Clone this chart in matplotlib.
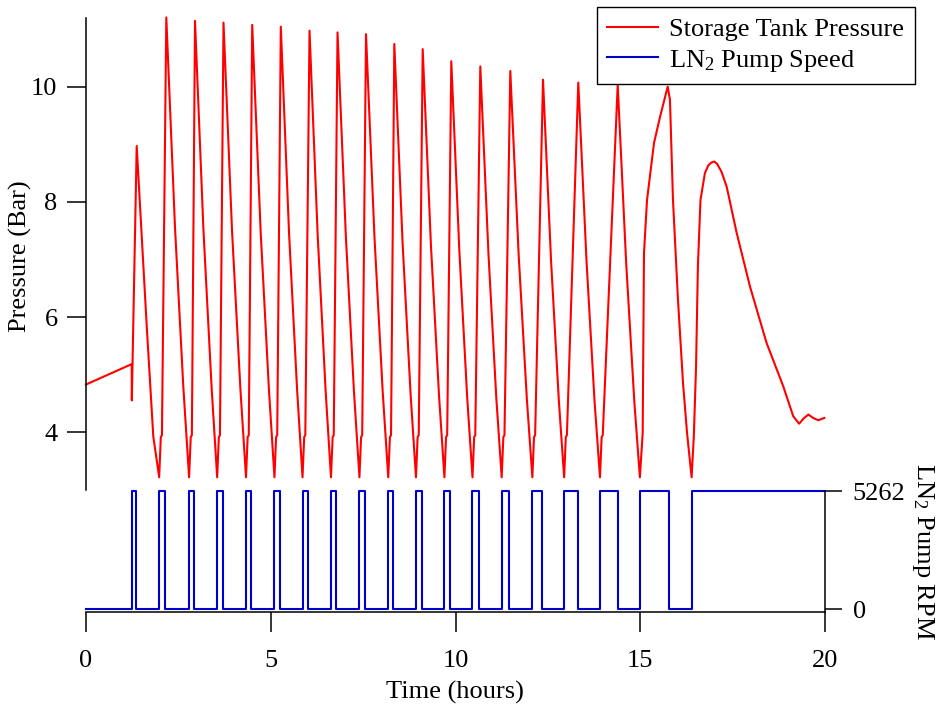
# Storage tank pressure and LN2 pump speed against time.
# Pressure on the upper panel, pump speed on a small panel underneath.

import matplotlib
matplotlib.use("Agg")
import matplotlib.pyplot as plt

# --------------------------------------------------

# DATA

# Storage tank pressure trace (hours, bar)
pressure_time = [
    0.00, 1.237, 1.240, 1.372,                                  # start and first fill
    1.643, 1.821, 1.98, 2.025, 2.055, 2.173,                    # cycle 2
    2.409, 2.633, 2.79, 2.835, 2.865, 2.950,
    3.178, 3.400, 3.55, 3.595, 3.625, 3.721,
    3.952, 4.178, 4.33, 4.375, 4.405, 4.498,
    4.727, 4.950, 5.10, 5.145, 5.175, 5.272,
    5.495, 5.713, 5.86, 5.905, 5.935, 6.049,
    6.270, 6.485, 6.63, 6.675, 6.705, 6.807,
    7.032, 7.252, 7.40, 7.445, 7.475, 7.578,
    7.807, 8.030, 8.18, 8.225, 8.255, 8.344,
    8.567, 8.784, 8.93, 8.975, 9.005, 9.112,
    9.335, 9.553, 9.70, 9.745, 9.775, 9.886,
    10.104, 10.316, 10.46, 10.505, 10.535, 10.671,
    10.891, 11.105, 11.25, 11.295, 11.325, 11.483,
    11.710, 11.931, 12.08, 12.125, 12.155, 12.368,
    12.585, 12.797, 12.94, 12.985, 13.015, 13.323,
    13.546, 13.763, 13.91, 13.955, 13.985, 14.390,
    14.618, 14.840, 14.99, 15.066, 15.101, 15.183, 15.372, 15.534, 15.743,
    15.804, 15.886, 16.021, 16.157, 16.265, 16.39,
    16.45, 16.51, 16.56, 16.63, 16.75, 16.84, 16.92, 17.00, 17.08,
    17.20, 17.34, 17.61, 17.97, 18.42, 18.87, 19.14, 19.30,
    19.42, 19.55, 19.68, 19.82, 19.98,
]
pressure_bar = [
    4.83, 5.185, 4.555, 8.97,
    5.85, 3.93, 3.22, 3.92, 3.95, 11.20,
    7.55, 4.80, 3.22, 3.92, 3.95, 11.14,
    7.52, 4.77, 3.22, 3.92, 3.95, 11.11,
    7.50, 4.76, 3.22, 3.92, 3.95, 11.07,
    7.48, 4.75, 3.22, 3.92, 3.95, 11.04,
    7.46, 4.74, 3.22, 3.92, 3.95, 10.97,
    7.42, 4.72, 3.22, 3.92, 3.95, 10.94,
    7.41, 4.71, 3.22, 3.92, 3.95, 10.91,
    7.39, 4.70, 3.22, 3.92, 3.95, 10.74,
    7.30, 4.67, 3.22, 3.92, 3.95, 10.65,
    7.25, 4.65, 3.22, 3.92, 3.95, 10.44,
    7.15, 4.61, 3.22, 3.92, 3.95, 10.35,
    7.11, 4.59, 3.22, 3.92, 3.95, 10.27,
    7.07, 4.58, 3.22, 3.92, 3.95, 10.12,
    6.99, 4.55, 3.22, 3.92, 3.95, 10.07,
    6.97, 4.54, 3.22, 3.92, 3.95, 10.03,
    6.95, 4.53, 3.22, 3.99, 7.11, 8.03, 9.02, 9.47, 10.00,
    9.77, 8.03, 6.30, 4.86, 4.00, 3.22,
    3.93, 5.14, 6.88, 8.03, 8.50, 8.63, 8.68, 8.70, 8.66,
    8.52, 8.26, 7.46, 6.53, 5.55, 4.80, 4.28, 4.15,
    4.24, 4.31, 4.25, 4.21, 4.25,
]

# LN2 pump switching times (hours) and full speed (RPM)
pump_on = [1.24, 1.98, 2.79, 3.55, 4.33, 5.10, 5.86, 6.63, 7.40, 8.18,
           8.93, 9.70, 10.46, 11.25, 12.08, 12.94, 13.91, 14.99, 16.39]
pump_off = [1.34, 2.13, 2.93, 3.70, 4.47, 5.24, 6.01, 6.77, 7.55, 8.31,
            9.08, 9.85, 10.64, 11.45, 12.35, 13.31, 14.39, 15.77, 20.0]
pump_rpm_max = 5262

time_ticks = [0, 5, 10, 15, 20]
pressure_ticks = [4, 6, 8, 10]

# --------------------------------------------------

# STYLE

plt.rcParams['font.family'] = ['Liberation Serif', 'DejaVu Serif']
plt.rcParams['mathtext.fontset'] = 'custom'
plt.rcParams['mathtext.rm'] = 'Liberation Serif'
plt.rcParams['mathtext.it'] = 'Liberation Serif'
plt.rcParams['font.size'] = 19

red = '#ff0000'
blue = '#0000cc'

# Build the on/off step trace for the pump
pump_time = [0.0]
pump_speed = [0]
for t_on, t_off in zip(pump_on, pump_off):
    pump_time += [t_on, t_on, t_off, t_off]
    pump_speed += [0, pump_rpm_max, pump_rpm_max, 0]
# pump stays on till the end of the record
pump_time = pump_time[:-1]
pump_speed = pump_speed[:-1]

# --------------------------------------------------

# FIGURE

W, H = 936, 706
fig = plt.figure(figsize=(W / 100, H / 100), dpi=100)

# upper panel: pressure
ax1 = fig.add_axes([86 / W, 1 - 490 / H, 739 / W, 472 / H])
# lower panel: pump speed
ax2 = fig.add_axes([86 / W, 1 - 612 / H, 739 / W, 121 / H])

for ax in (ax1, ax2):
    ax.set_facecolor('none')
    ax.set_xlim(0, 20)
    for s in ax.spines.values():
        s.set_linewidth(1.1)
        s.set_color('black')

# Pressure
pres_line, = ax1.plot(pressure_time, pressure_bar, color=red, lw=1.5,
                      label='Storage Tank Pressure', clip_on=False)
ax1.set_ylim(3.0, 11.19)
ax1.set_yticks(pressure_ticks)
ax1.set_xticks([])
ax1.spines['top'].set_visible(False)
ax1.spines['right'].set_visible(False)
ax1.spines['bottom'].set_visible(False)
ax1.tick_params(axis='y', direction='out', length=13.5, width=1.1, pad=7)

# Pump speed
pump_line, = ax2.plot(pump_time, pump_speed, color=blue, lw=1.5,
                      label='LN$_2$ Pump Speed', clip_on=False)
ax2.set_ylim(-pump_rpm_max * 3 / 118, pump_rpm_max)
ax2.set_yticks([0, pump_rpm_max])
ax2.set_yticklabels(['0', str(pump_rpm_max)])
ax2.yaxis.tick_right()
ax2.set_xticks(time_ticks)
ax2.spines['top'].set_visible(False)
ax2.spines['left'].set_visible(False)
ax2.tick_params(axis='y', direction='out', length=12, width=1.1, pad=8)
ax2.tick_params(axis='x', direction='out', length=14.5, width=1.1, pad=13)

# Axis labels
fig.text(20 / W, 1 - 256 / H, 'Pressure (Bar)', rotation=90,
         ha='center', va='center')
fig.text(455 / W, 1 - 692 / H, 'Time (hours)', ha='center', va='center')
fig.text(923 / W, 1 - 551 / H, 'LN$_2$ Pump RPM', rotation=270,
         ha='center', va='center')

# Legend
leg = fig.legend(handles=[pres_line, pump_line], loc='upper right',
                 bbox_to_anchor=(915 / W, 1 - 7 / H), borderaxespad=0,
                 fancybox=False, framealpha=1, edgecolor='black',
                 handlelength=1.9, handletextpad=0.45, borderpad=0.4,
                 labelspacing=0.25)
leg.get_frame().set_linewidth(1.0)

fig.savefig('out.png', dpi=100)
